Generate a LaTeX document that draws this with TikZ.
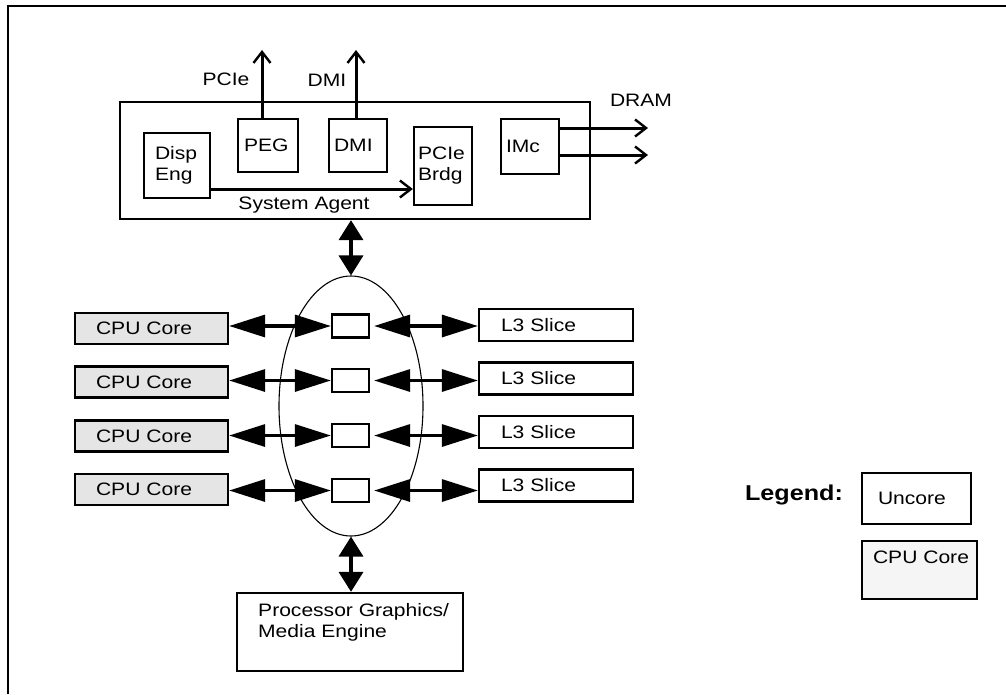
\documentclass[tikz,border=0pt]{standalone}
\usepackage{fontspec}
\setmainfont{Liberation Sans}[FakeStretch=1.17]
\usetikzlibrary{arrows.meta,shapes.geometric}
\begin{document}
\begin{tikzpicture}[x=1pt,y=-1pt,
  every node/.style={font=\fontsize{18}{21}\selectfont},
  box/.style={draw,line width=2.3pt,rectangle,inner ysep=0pt},
  lbox/.style={box,align=left},
  cpubox/.style={box,fill=black!10,inner xsep=21pt,text width=111pt,minimum width=153pt,minimum height=31pt,align=left},
  l3box/.style={box,inner xsep=22pt,text width=110pt,minimum width=154pt,minimum height=32pt,align=left},
  sbox/.style={box,inner sep=0pt,minimum width=37pt,minimum height=23pt},
  plain/.style={inner sep=0pt},
  barb/.style={line width=3pt,arrows={-Straight Barb[length=11pt,width=17pt,line width=2.4pt]}},
  bigh/.style={line width=3.2pt,arrows={Triangle[length=36pt,width=22pt]-Triangle[length=36pt,width=22pt]}},
  bigv/.style={line width=3.6pt,arrows={Triangle[length=20pt,width=24pt]-Triangle[length=20pt,width=24pt]}}
]
\useasboundingbox (0,0) rectangle (1006,694);
% frame
\draw[line width=2.2pt] (1006,6) -- (8,6) -- (8,694);

% System agent
\node[box,inner sep=0pt,minimum width=470pt,minimum height=117pt] (sa) at (355,160.5) {};
\node[plain] (salabel) at (304,205) {System Agent};
\node[lbox,inner xsep=11pt,text width=44pt,minimum height=65pt] (disp) at (177,165.5) {Disp\\Eng};
\node[lbox,inner xsep=6pt,text width=48pt,minimum height=53pt] (peg) at (268,145.5) {PEG};
\node[lbox,inner xsep=5pt,text width=48pt,minimum height=53pt] (dmi) at (358,145.5) {DMI};
\node[lbox,inner xsep=4pt,text width=50pt,minimum height=78pt] (brdg) at (443,166) {PCIe\\Brdg};
\node[lbox,inner xsep=5pt,text width=48pt,minimum height=55pt] (imc) at (530,146.5) {IMc};

\node[plain] (pcielabel) at (226,79) {PCIe};
\node[plain] (dmilabel) at (327,80) {DMI};
\node[plain] (dramlabel) at (641,100) {DRAM};

\coordinate (pcieout) at (262,50);
\coordinate (dmiout) at (356,50);
\coordinate (dram1) at (648,128);
\coordinate (dram2) at (648,155);
\coordinate (dispy) at (300,189);
\draw[barb] (pcieout |- peg.north) -- (pcieout);
\draw[barb] (dmiout |- dmi.north) -- (dmiout);
\draw[barb] (imc.east |- dram1) -- (dram1);
\draw[barb] (imc.east |- dram2) -- (dram2);
\draw[barb] (disp.east |- dispy) -- (brdg.west |- dispy);

% ring
\node[draw,ellipse,line width=1.1pt,inner sep=0pt,minimum width=144pt,minimum height=260pt] (ring) at (351,406) {};
\draw[bigv] (ring.north) -- (ring.north |- sa.south);

% rows
\node[cpubox] (c1) at (151.5,328.5) {CPU Core};
\node[cpubox] (c2) at (151.5,382) {CPU Core};
\node[cpubox] (c3) at (151.5,436) {CPU Core};
\node[cpubox] (c4) at (151.5,489.5) {CPU Core};
\node[sbox] (s1) at (350.5,326) {};
\node[sbox] (s2) at (350.5,380.5) {};
\node[sbox] (s3) at (350.5,435.5) {};
\node[sbox] (s4) at (350.5,490.5) {};
\node[l3box] (l1) at (556,325) {L3 Slice};
\node[l3box] (l2) at (556,378.5) {L3 Slice};
\node[l3box] (l3) at (556,432) {L3 Slice};
\node[l3box] (l4) at (556,485.5) {L3 Slice};
\foreach \i in {1,2,3,4} {
  \draw[bigh] (c\i.east |- s\i.west) -- (s\i.west);
  \draw[bigh] ([xshift=4pt]s\i.east) -- (l\i.west |- s\i.east);
}

% graphics
\node[box,inner sep=0pt,minimum width=226pt,minimum height=78pt] (pg) at (350,632) {};
\node[plain,anchor=north west,align=left,font=\fontsize{18}{21}\selectfont] (pgtext) at (258,603) {Processor Graphics/\\Media Engine};
\draw[bigv] (ring.south) -- (ring.south |- pg.north);

% legend
\node[plain,font=\bfseries\fontsize{21.5}{24}\selectfont] (legend) at (794,495) {Legend:};
\node[lbox,inner xsep=16pt,text width=77pt,minimum height=51pt] (luncore) at (916.5,498.5) {Uncore};
\node[box,inner sep=0pt,fill=black!4,minimum width=115pt,minimum height=58pt] (lcpu) at (919.5,570) {};
\node[plain,anchor=base] (lcputext) at (921,563) {CPU Core};
\end{tikzpicture}
\end{document}
